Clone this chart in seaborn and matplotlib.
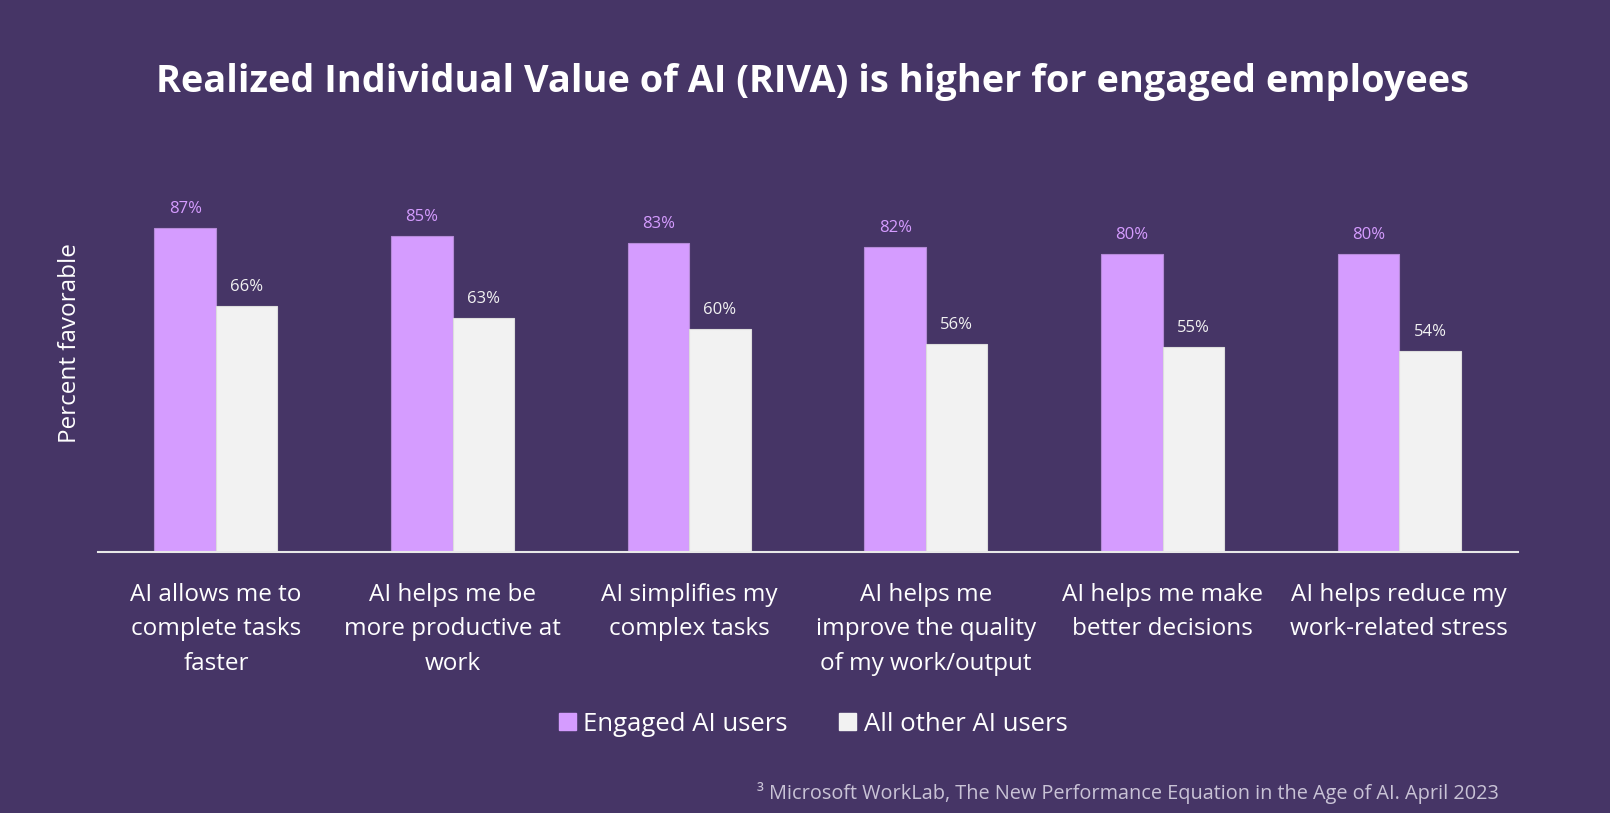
import pandas as pd
import seaborn as sns
import matplotlib.pyplot as plt

categories = [
    "AI allows me to\ncomplete tasks\nfaster",
    "AI helps me be\nmore productive at\nwork",
    "AI simplifies my\ncomplex tasks",
    "AI helps me\nimprove the quality\nof my work/output",
    "AI helps me make\nbetter decisions",
    "AI helps reduce my\nwork-related stress",
]
engaged = [87, 85, 83, 82, 80, 80]
other = [66, 63, 60, 56, 55, 54]
groups = ["Engaged AI users", "All other AI users"]

bg = "#463566"
purple = "#D59CFF"
white = "#F2F2F2"

df = pd.DataFrame({
    "cat": categories * 2,
    "val": engaged + other,
    "group": [groups[0]] * 6 + [groups[1]] * 6,
})

sns.set_theme(style="white")
plt.rcParams['font.family'] = ['Open Sans', 'DejaVu Sans']

fig = plt.figure(figsize=(16.1, 8.13), dpi=100)
fig.patch.set_facecolor(bg)
ax = fig.add_axes([0.0606, 0.321, 0.882, 0.4576])
ax.set_facecolor(bg)

sns.barplot(data=df, x="cat", y="val", hue="group", palette=[purple, white],
            width=0.52, gap=0, ax=ax, legend=False, saturation=1)

for c, col in zip(ax.containers, [purple, white]):
    ax.bar_label(c, labels=[f"{int(v)}%" for v in c.datavalues], padding=8,
                 color=col, fontsize=12)
    for p in c:
        p.set_edgecolor("#B58AD8" if col == purple else "#DDDDDD")
        p.set_linewidth(0.8)

ax.set_ylim(0, 100)
ax.set_xlim(-0.5, 5.5)
ax.set_yticks([])
ax.set_xlabel("")
ax.set_ylabel("Percent favorable", color="white", fontsize=17.5)
ax.yaxis.set_label_coords(-0.011, 0.562)
ax.tick_params(axis="x", colors="white", labelsize=17.5, length=0, pad=22)
for lbl in ax.get_xticklabels():
    lbl.set_linespacing(1.6)
for s in ["top", "left", "right"]:
    ax.spines[s].set_visible(False)
ax.spines["bottom"].set_color("#E8E8E8")
ax.spines["bottom"].set_linewidth(1.5)

handles = [plt.Rectangle((0, 0), 1, 1, color=purple),
           plt.Rectangle((0, 0), 1, 1, color=white)]
fig.legend(handles, groups, loc="center", bbox_to_anchor=(0.505, 0.109),
           ncol=2, frameon=False, fontsize=18.5, labelcolor="white",
           handlelength=0.65, handleheight=0.65, handletextpad=0.3,
           columnspacing=2.0)

fig.text(0.505, 0.899, "Realized Individual Value of AI (RIVA) is higher for engaged employees",
         ha="center", va="center", color="white", fontsize=27.3, fontweight="bold")
fig.text(0.931, 0.025, "³ Microsoft WorkLab, The New Performance Equation in the Age of AI. April 2023",
         ha="right", va="center", color="#C9C3D6", fontsize=14.3)

fig.savefig("out.png", dpi=100, facecolor=bg)
